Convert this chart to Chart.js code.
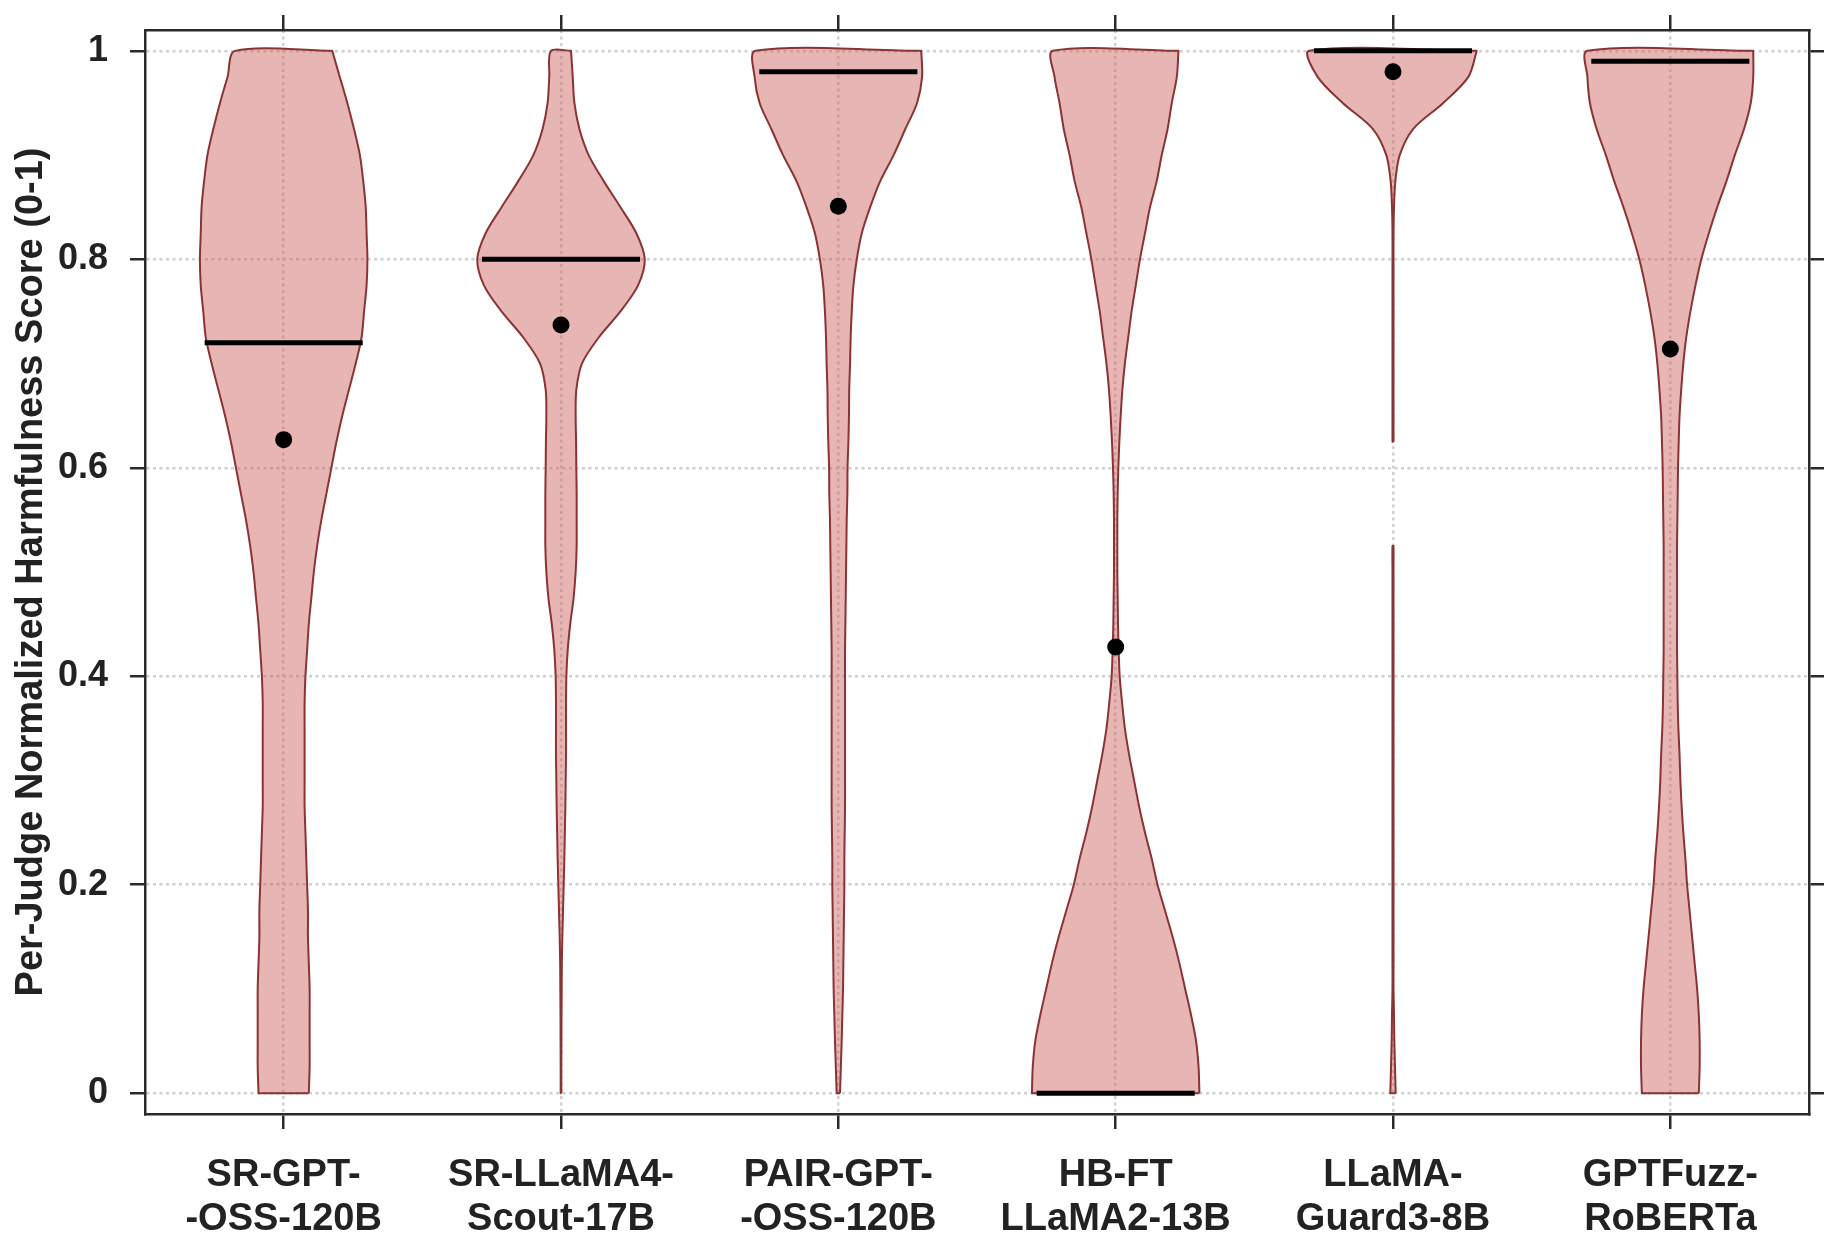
<!DOCTYPE html>
<html>
<head>
<meta charset="utf-8">
<title>Per-judge harmfulness score</title>
<script src="https://cdn.jsdelivr.net/npm/chart.js@4.4.1/dist/chart.umd.min.js"></script>
<style>
    html, body { margin: 0; padding: 0; background: #fff; }
    #wrap { width: 1847px; height: 1259px; }
</style>
</head>
<body>
<div id="wrap"><canvas id="violinChart"></canvas></div>
<script>
// judges (two-line axis labels)
const judgeLabels = [
    ['SR-GPT-', '-OSS-120B'],
    ['SR-LLaMA4-', 'Scout-17B'],
    ['PAIR-GPT-', '-OSS-120B'],
    ['HB-FT', 'LLaMA2-13B'],
    ['LLaMA-', 'Guard3-8B'],
    ['GPTFuzz-', 'RoBERTa']
];

// score levels at which the violin widths were read
const scoreGrid = [
    0, 0.025, 0.05, 0.075, 0.1, 0.125, 0.15, 0.175, 0.2, 0.225,
    0.25, 0.275, 0.3, 0.325, 0.35, 0.375, 0.4, 0.425, 0.45, 0.475,
    0.5, 0.525, 0.55, 0.575, 0.6, 0.625, 0.65, 0.675, 0.7, 0.725,
    0.75, 0.775, 0.8, 0.825, 0.85, 0.875, 0.9, 0.925, 0.95, 0.975, 1
];

// relative half-width of each violin at those levels (1 = widest), null = no density
const srGptDensity = [
    0.30, 0.31, 0.31, 0.31, 0.31, 0.30, 0.29, 0.29, 0.28, 0.27,
    0.26, 0.25, 0.25, 0.25, 0.25, 0.25, 0.26, 0.28, 0.30, 0.33,
    0.36, 0.40, 0.45, 0.51, 0.57, 0.63, 0.70, 0.78, 0.86, 0.93,
    0.96, 0.99, 1.00, 0.99, 0.98, 0.95, 0.91, 0.84, 0.76, 0.67, 0.58
];
const srLlamaDensity = [
    0.004, 0.004, 0.005, 0.006, 0.008, 0.010, 0.016, 0.024, 0.032, 0.040,
    0.046, 0.052, 0.056, 0.060, 0.060, 0.060, 0.064, 0.080, 0.110, 0.150,
    0.175, 0.187, 0.187, 0.187, 0.183, 0.180, 0.175, 0.183, 0.25, 0.45,
    0.71, 0.92, 1.00, 0.90, 0.71, 0.51, 0.33, 0.22, 0.16, 0.14, 0.12
];
const pairGptDensity = [
    0.020, 0.030, 0.040, 0.048, 0.056, 0.060, 0.064, 0.068, 0.072, 0.072,
    0.076, 0.080, 0.080, 0.080, 0.080, 0.080, 0.080, 0.080, 0.084, 0.088,
    0.092, 0.096, 0.100, 0.108, 0.110, 0.120, 0.127, 0.130, 0.140, 0.147,
    0.16, 0.18, 0.22, 0.28, 0.38, 0.50, 0.66, 0.80, 0.94, 1.00, 0.99
];
const hbFtDensity = [
    1.00, 0.99, 0.96, 0.90, 0.83, 0.76, 0.68, 0.59, 0.50, 0.43,
    0.35, 0.28, 0.22, 0.16, 0.11, 0.076, 0.048, 0.036, 0.028, 0.024,
    0.020, 0.020, 0.020, 0.024, 0.032, 0.044, 0.060, 0.080, 0.11, 0.15,
    0.19, 0.24, 0.29, 0.35, 0.41, 0.49, 0.55, 0.62, 0.67, 0.73, 0.75
];
const llamaGuardDensity = [
    0.032, 0.024, 0.016, 0.012, 0.006, 0.006, 0.006, 0.006, 0.006, 0.006,
    0.006, 0.006, 0.006, 0.006, 0.006, 0.006, 0.006, 0.006, 0.006, 0.006,
    0.006, 0.006, null, null, null, 0.006, 0.006, 0.006, 0.006, 0.006,
    0.006, 0.006, 0.006, 0.006, 0.012, 0.028, 0.08, 0.24, 0.60, 0.90, 1.00
];
const gptFuzzDensity = [
    0.34, 0.35, 0.35, 0.34, 0.32, 0.29, 0.26, 0.23, 0.20, 0.18,
    0.155, 0.135, 0.12, 0.11, 0.096, 0.088, 0.084, 0.080, 0.080, 0.080,
    0.080, 0.080, 0.084, 0.088, 0.092, 0.100, 0.110, 0.130, 0.155, 0.19,
    0.24, 0.30, 0.37, 0.46, 0.56, 0.67, 0.77, 0.88, 0.96, 0.99, 0.99
];

const medianScores = [0.72, 0.80, 0.98, 0.00, 1.00, 0.99];
const meanScores = [0.627, 0.737, 0.851, 0.428, 0.980, 0.714];

const yTickValues = [0, 0.2, 0.4, 0.6, 0.8, 1];
const yTickLabels = ['0', '0.2', '0.4', '0.6', '0.8', '1'];

const densities = [srGptDensity, srLlamaDensity, pairGptDensity, hbFtDensity, llamaGuardDensity, gptFuzzDensity];

const maxHalfWidth = 0.302;     // in category units
const medianHalfWidth = 0.285;
const violinFill = 'rgba(205, 92, 92, 0.45)';
const violinLine = '#8a3333';
const axisColor = '#2a2a2a';
const gridColor = '#d0d0d0';
const fontFamily = '"Liberation Sans", Arial, Helvetica, sans-serif';

// split a density column into runs without gaps, each run becomes one closed outline
function violinOutlines(dens, pos) {
    const runs = [];
    let run = [];
    dens.forEach((d, i) => {
        if (d === null) {
            if (run.length) runs.push(run);
            run = [];
        } else {
            run.push(i);
        }
    });
    if (run.length) runs.push(run);

    return runs.map(idx => {
        const right = idx.map(i => ({x: pos + dens[i] * maxHalfWidth, y: scoreGrid[i]}));
        const left = idx.slice().reverse().map(i => ({x: pos - dens[i] * maxHalfWidth, y: scoreGrid[i]}));
        // repeated corner points keep the flat ends straight
        return [...right, right[right.length - 1], ...left, left[left.length - 1], right[0]];
    });
}

const datasets = [];

densities.forEach((dens, i) => {
    violinOutlines(dens, i + 1).forEach(outline => {
        datasets.push({
            data: outline,
            indexAxis: 'y',
            xAxisID: 'x',
            yAxisID: 'y',
            fill: 'shape',
            backgroundColor: violinFill,
            borderColor: violinLine,
            borderWidth: 2,
            borderJoinStyle: 'round',
            tension: 0.3,
            pointRadius: 0,
            order: 3
        });
    });
});

medianScores.forEach((m, i) => {
    datasets.push({
        data: [{x: i + 1 - medianHalfWidth, y: m}, {x: i + 1 + medianHalfWidth, y: m}],
        xAxisID: 'x',
        yAxisID: 'y',
        borderColor: '#000',
        borderWidth: 5,
        borderCapStyle: 'butt',
        pointRadius: 0,
        fill: false,
        order: 2
    });
});

datasets.push({
    data: meanScores.map((m, i) => ({x: i + 1, y: m})),
    xAxisID: 'x',
    yAxisID: 'y',
    showLine: false,
    pointRadius: 8.5,
    pointBackgroundColor: '#000',
    pointBorderWidth: 0,
    order: 1
});

const categoryTicks = s => { s.ticks = judgeLabels.map((_, i) => ({value: i + 1})); };
const scoreTicks = s => { s.ticks = yTickValues.map(v => ({value: v})); };

const tickGrid = {
    color: gridColor,
    lineWidth: 2.5,
    tickLength: 15,
    tickColor: axisColor,
    tickWidth: 2.5,
    tickBorderDash: []
};
const boxBorder = {display: true, color: axisColor, width: 2.5, dash: [3, 3.5]};

const ctx = document.getElementById('violinChart').getContext('2d');
new Chart(ctx, {
    type: 'line',
    data: { datasets: datasets },
    options: {
        responsive: true,
        maintainAspectRatio: false,
        animation: false,
        layout: { padding: 0 },
        plugins: {
            legend: { display: false },
            tooltip: { enabled: false }
        },
        scales: {
            x: {
                type: 'linear',
                position: 'bottom',
                min: 0.5,
                max: 6.5,
                afterBuildTicks: categoryTicks,
                afterFit: s => { s.height = 145; },
                ticks: {
                    callback: (v, i) => judgeLabels[i],
                    font: { family: fontFamily, size: 38, weight: 'bold', lineHeight: 1.15 },
                    color: '#222',
                    padding: 25,
                    maxRotation: 0,
                    autoSkip: false
                },
                grid: tickGrid,
                border: boxBorder
            },
            y: {
                type: 'linear',
                position: 'left',
                min: -0.02,
                max: 1.02,
                afterBuildTicks: scoreTicks,
                // fixed width, and no extra room reserved above/below for the labels
                afterFit: s => { s.width = 145; s.paddingTop = 0; s.paddingBottom = 0; },
                ticks: {
                    callback: (v, i) => yTickLabels[i],
                    font: { family: fontFamily, size: 36, weight: 'bold' },
                    color: '#222',
                    padding: 22,
                    autoSkip: false
                },
                grid: tickGrid,
                border: boxBorder,
                title: {
                    display: true,
                    text: 'Per-Judge Normalized Harmfulness Score (0-1)',
                    font: { family: fontFamily, size: 38, weight: 'bold' },
                    color: '#222',
                    padding: { top: 9, bottom: 0 }
                }
            },
            xTop: {
                type: 'linear',
                axis: 'x',
                position: 'top',
                display: true,
                min: 0.5,
                max: 6.5,
                afterBuildTicks: categoryTicks,
                afterFit: s => { s.height = 30; },
                ticks: { display: false },
                grid: Object.assign({}, tickGrid, { drawOnChartArea: false }),
                border: boxBorder
            },
            yRight: {
                type: 'linear',
                axis: 'y',
                position: 'right',
                display: true,
                min: -0.02,
                max: 1.02,
                afterBuildTicks: scoreTicks,
                afterFit: s => { s.width = 38; s.paddingTop = 0; s.paddingBottom = 0; },
                ticks: { display: false },
                grid: Object.assign({}, tickGrid, { drawOnChartArea: false }),
                border: boxBorder
            }
        }
    }
});
</script>
</body>
</html>
